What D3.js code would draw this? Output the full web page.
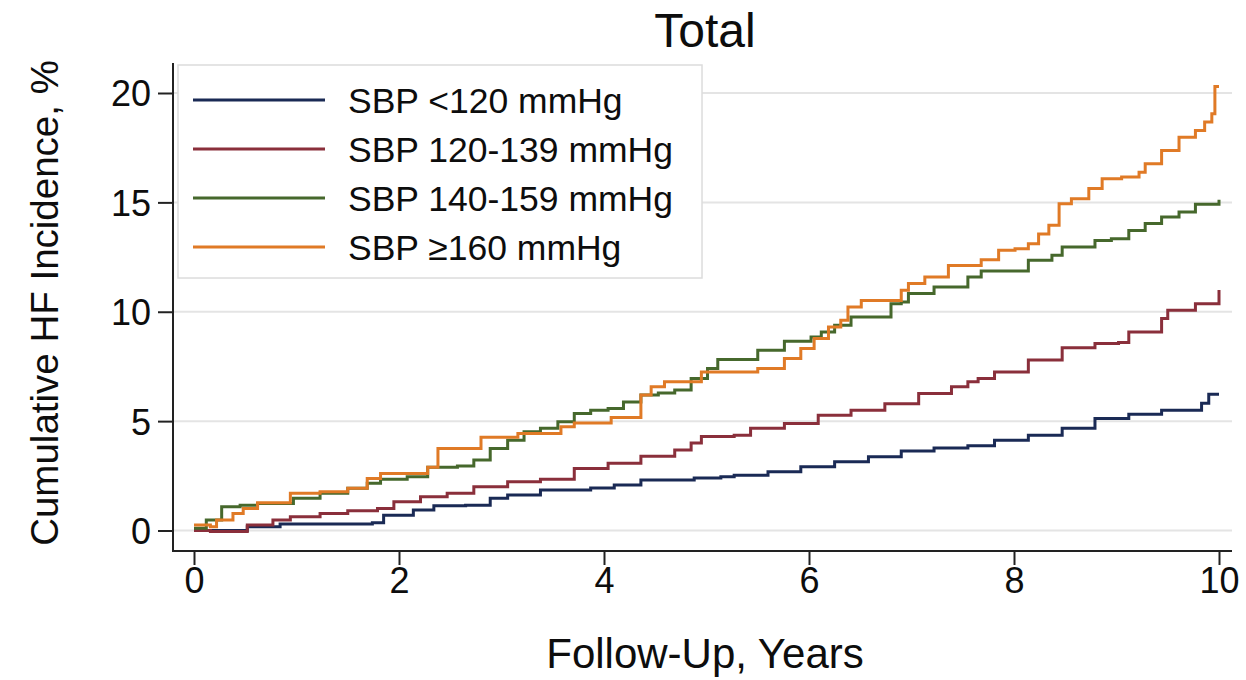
<!DOCTYPE html>
<html>
<head>
<meta charset="utf-8">
<script src="https://cdn.jsdelivr.net/npm/d3@7"></script>
<style>
  body { margin: 0; background: #fff; }
  svg text { font-family: "Liberation Sans", Arial, sans-serif; fill: #0d0d0d; }
</style>
</head>
<body>
<svg width="1246" height="680"></svg>
<script>
// series labels and colours
var groups = ['SBP <120 mmHg', 'SBP 120-139 mmHg', 'SBP 140-159 mmHg', 'SBP \u2265160 mmHg'];
var colors = ['#1a2a55', '#8a2f3b', '#46682c', '#e07a26'];

// follow-up years / cumulative incidence (%)
var yrsA = [0, 0.52, 0.84, 1.74, 1.85, 2.14, 2.34, 2.65, 2.89, 3.06, 3.38, 3.87, 4.1, 4.36, 4.88, 5.14, 5.27, 5.6, 5.92, 6.25, 6.58, 6.9, 7.22, 7.55, 7.81, 8.14, 8.47, 8.79, 9.12, 9.44, 9.83, 9.9, 10.0];
var valA = [0, 0.17, 0.3, 0.36, 0.7, 0.94, 1.13, 1.16, 1.48, 1.62, 1.85, 1.94, 2.08, 2.31, 2.4, 2.46, 2.53, 2.69, 2.91, 3.14, 3.37, 3.64, 3.77, 3.88, 4.13, 4.36, 4.67, 5.12, 5.32, 5.5, 5.82, 6.23, 6.23];

var yrsB = [0, 0.16, 0.52, 0.77, 0.94, 1.23, 1.5, 1.79, 1.95, 2.21, 2.47, 2.73, 3.06, 3.38, 3.71, 4.04, 4.36, 4.69, 4.85, 4.95, 5.27, 5.43, 5.76, 6.09, 6.41, 6.74, 7.07, 7.39, 7.55, 7.65, 7.81, 8.14, 8.47, 8.79, 9.02, 9.12, 9.44, 9.5, 9.77, 10.0];
var valB = [0, -0.05, 0.25, 0.48, 0.63, 0.78, 0.9, 1.01, 1.31, 1.54, 1.7, 2.0, 2.23, 2.34, 2.84, 3.07, 3.4, 3.68, 4.0, 4.3, 4.36, 4.68, 4.89, 5.27, 5.5, 5.8, 6.26, 6.57, 6.8, 6.95, 7.25, 7.79, 8.36, 8.55, 8.6, 9.08, 9.69, 10.07, 10.37, 11.0];

var yrsC = [0, 0.12, 0.27, 0.45, 0.62, 0.97, 1.23, 1.5, 1.69, 1.82, 2.08, 2.28, 2.57, 2.73, 2.89, 3.06, 3.22, 3.38, 3.55, 3.71, 3.87, 4.04, 4.19, 4.36, 4.53, 4.69, 4.85, 5.01, 5.11, 5.5, 5.76, 6.02, 6.12, 6.25, 6.41, 6.8, 6.9, 6.97, 7.22, 7.55, 7.68, 8.14, 8.37, 8.47, 8.79, 8.95, 9.12, 9.28, 9.44, 9.61, 9.77, 10.0];
var valC = [0.1, 0.48, 1.09, 1.16, 1.24, 1.47, 1.7, 1.93, 2.16, 2.34, 2.46, 2.89, 2.95, 3.22, 3.75, 4.13, 4.51, 4.67, 4.97, 5.35, 5.5, 5.58, 5.88, 6.19, 6.29, 6.42, 6.95, 7.41, 7.82, 8.24, 8.65, 8.85, 9.08, 9.38, 9.76, 10.37, 10.45, 10.83, 11.13, 11.59, 11.86, 12.35, 12.58, 12.96, 13.26, 13.34, 13.72, 14.03, 14.33, 14.56, 14.92, 15.12];

var yrsD = [0, 0.16, 0.22, 0.38, 0.48, 0.62, 0.94, 1.23, 1.5, 1.69, 1.82, 2.28, 2.38, 2.8, 3.16, 3.58, 3.71, 4.07, 4.36, 4.46, 4.59, 4.95, 5.5, 5.76, 5.92, 6.05, 6.19, 6.31, 6.38, 6.51, 6.9, 6.97, 7.13, 7.36, 7.68, 7.85, 8.01, 8.14, 8.24, 8.34, 8.44, 8.56, 8.73, 8.86, 9.05, 9.22, 9.28, 9.44, 9.61, 9.77, 9.86, 9.93, 9.96, 10.0];
var valD = [0.25, 0.17, 0.48, 0.78, 1.01, 1.27, 1.7, 1.77, 1.93, 2.38, 2.61, 2.89, 3.75, 4.26, 4.44, 4.74, 4.92, 5.17, 6.19, 6.57, 6.8, 7.25, 7.41, 7.86, 8.32, 8.78, 9.3, 9.61, 10.22, 10.52, 10.98, 11.29, 11.59, 12.12, 12.38, 12.81, 12.88, 13.11, 13.56, 13.95, 14.94, 15.17, 15.63, 16.08, 16.16, 16.38, 16.77, 17.37, 17.98, 18.29, 18.67, 19.05, 20.3, 20.3];

var xTicks = [0, 2, 4, 6, 8, 10];
var yTicks = [0, 5, 10, 15, 20];

var svg = d3.select('svg');

var xScale = d3.scaleLinear().domain([0, 10]).range([194, 1219]);
var yScale = d3.scaleLinear().domain([0, 20]).range([530.5, 93]);

var axisX = 173, axisY = 551, plotRight = 1232, plotTop = 63;

// gridlines
svg.append('g')
  .selectAll('line')
  .data(yTicks)
  .enter().append('line')
    .attr('x1', axisX).attr('x2', plotRight)
    .attr('y1', function(d) { return yScale(d); })
    .attr('y2', function(d) { return yScale(d); })
    .attr('stroke', '#e4e4e4')
    .attr('stroke-width', 2);

// the curves
var series = [[yrsA, valA], [yrsB, valB], [yrsC, valC], [yrsD, valD]];
var line = d3.line()
  .x(function(d) { return xScale(d[0]); })
  .y(function(d) { return yScale(d[1]); })
  .curve(d3.curveStepAfter);

svg.append('g')
  .selectAll('path')
  .data(series)
  .enter().append('path')
    .attr('d', function(s) { return line(d3.zip(s[0], s[1])); })
    .attr('fill', 'none')
    .attr('stroke', function(d, i) { return colors[i]; })
    .attr('stroke-width', 3);

// y axis
var yAxis = d3.axisLeft(yScale).tickValues(yTicks).tickSize(15).tickPadding(7);
var gy = svg.append('g').attr('transform', 'translate(' + axisX + ',0)').call(yAxis);
gy.select('.domain').remove();
gy.append('line').attr('x1', 0).attr('x2', 0).attr('y1', plotTop).attr('y2', axisY + 1)
  .attr('stroke', '#222').attr('stroke-width', 2);
gy.selectAll('.tick line').attr('stroke', '#222').attr('stroke-width', 2);
gy.selectAll('.tick text').style('font-size', '36px').attr('fill', '#0d0d0d').attr('dy', '0.36em');

// x axis
var xAxis = d3.axisBottom(xScale).tickValues(xTicks).tickSize(14).tickPadding(2);
var gx = svg.append('g').attr('transform', 'translate(0,' + axisY + ')').call(xAxis);
gx.select('.domain').remove();
gx.append('line').attr('x1', axisX - 1).attr('x2', plotRight).attr('y1', 0).attr('y2', 0)
  .attr('stroke', '#222').attr('stroke-width', 2);
gx.selectAll('.tick line').attr('stroke', '#222').attr('stroke-width', 2);
gx.selectAll('.tick text').style('font-size', '36px').attr('fill', '#0d0d0d');

// titles
svg.append('text')
  .attr('x', 705).attr('y', 47)
  .attr('text-anchor', 'middle')
  .style('font-size', '48px')
  .text('Total');

svg.append('text')
  .attr('x', 705).attr('y', 668)
  .attr('text-anchor', 'middle')
  .style('font-size', '42px')
  .text('Follow-Up, Years');

svg.append('text')
  .attr('transform', 'translate(58,303) rotate(-90)')
  .attr('text-anchor', 'middle')
  .style('font-size', '38.5px')
  .text('Cumulative HF Incidence, %');

// legend
var legend = svg.append('g');
legend.append('rect')
  .attr('x', 178).attr('y', 65).attr('width', 524).attr('height', 213)
  .attr('fill', '#fff').attr('stroke', '#dcdcdc').attr('stroke-width', 1.5);

var rows = legend.selectAll('g.row')
  .data(groups)
  .enter().append('g')
    .attr('class', 'row')
    .attr('transform', function(d, i) { return 'translate(0,' + (100 + i * 49) + ')'; });

rows.append('line')
  .attr('x1', 193).attr('x2', 325)
  .attr('stroke', function(d, i) { return colors[i]; })
  .attr('stroke-width', 3);

rows.append('text')
  .attr('x', 348).attr('dy', '0.36em')
  .style('font-size', '35.5px')
  .text(function(d) { return d; });
</script>
</body>
</html>
